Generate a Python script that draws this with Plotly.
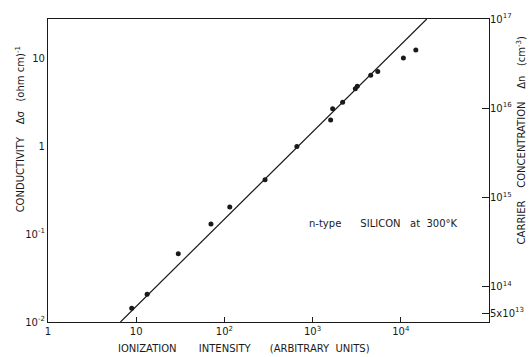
import plotly.graph_objects as go

# measured data points
intensity = [8.9, 13.3, 30, 70.4, 115, 289, 663, 1602, 1688, 2190, 3050, 3210, 4560, 5480, 10700, 14800]
conductivity = [0.0143, 0.0207, 0.0597, 0.130, 0.204, 0.415, 0.99, 1.98, 2.66, 3.17, 4.5, 4.8, 6.4, 7.08, 10.1, 12.4]

# fitted line endpoints
line_x = [6.63, 19700]
line_y = [0.01, 28]

x_tickvals = [1, 10, 100, 1000, 10000]
x_ticktext = ["1", "10", "10<sup>2</sup>", "10<sup>3</sup>", "10<sup>4</sup>"]
y_tickvals = [0.01, 0.1, 1, 10]
y_ticktext = ["10<sup>-2</sup>", "10<sup>-1</sup>", "1", "10"]
y2_tickvals = [5e13, 1e14, 1e15, 1e16, 1e17]
y2_ticktext = ["5x10<sup>13</sup>", "10<sup>14</sup>", "10<sup>15</sup>", "10<sup>16</sup>", "10<sup>17</sup>"]

FONT = "DejaVu Sans"
INK = "#1a1a1a"
NB = "\u00a0"

fig = go.Figure()
fig.add_trace(go.Scatter(x=line_x, y=line_y, mode="lines",
                         line=dict(color=INK, width=1.2), showlegend=False, hoverinfo="skip"))
fig.add_trace(go.Scatter(x=intensity, y=conductivity, mode="markers",
                         marker=dict(color=INK, size=5), showlegend=False))
fig.add_trace(go.Scatter(x=[None], y=[None], yaxis="y2", mode="markers", showlegend=False, hoverinfo="skip"))

fig.update_layout(
    width=529, height=357,
    margin=dict(l=48, r=40, t=19, b=35),
    paper_bgcolor="white", plot_bgcolor="white",
    font=dict(family=FONT, size=10, color=INK),
    xaxis=dict(type="log", range=[0, 5], tickvals=x_tickvals, ticktext=x_ticktext,
               ticks="inside", ticklen=5, tickcolor=INK, showgrid=False, zeroline=False,
               showline=True, linecolor=INK, linewidth=1.2, mirror=True, automargin=False,
               tickfont=dict(size=10, family=FONT, color=INK)),
    yaxis=dict(type="log", range=[-2, 1.447], tickvals=y_tickvals, ticktext=y_ticktext,
               ticks="", showgrid=False, zeroline=False, automargin=False,
               showline=True, linecolor=INK, linewidth=1.2, mirror=True,
               tickfont=dict(size=10, family=FONT, color=INK)),
    yaxis2=dict(type="log", range=[13.6, 17.0], overlaying="y", side="right",
                tickvals=y2_tickvals, ticktext=y2_ticktext, automargin=False,
                ticks="inside", ticklen=7, tickcolor=INK, showgrid=False, zeroline=False,
                showline=False, tickfont=dict(size=10, family=FONT, color=INK)),
)

fig.add_annotation(text="CONDUCTIVITY" + NB * 4 + "Δσ" + NB * 3 + "(ohm" + NB + "cm)<sup>-1</sup>",
                   xref="paper", yref="paper", x=-0.064, y=0.635, textangle=-90,
                   showarrow=False, font=dict(size=10, family=FONT, color=INK), xanchor="center", yanchor="middle")
fig.add_annotation(text="CARRIER" + NB * 4 + "CONCENTRATION" + NB * 4 + "Δn" + NB * 3 + "(cm<sup>-3</sup>)",
                   xref="paper", yref="paper", x=1.073, y=0.6, textangle=-90,
                   showarrow=False, font=dict(size=10, family=FONT, color=INK), xanchor="center", yanchor="middle")
fig.add_annotation(text="IONIZATION" + NB * 7 + "INTENSITY" + NB * 6 + "(ARBITRARY" + NB * 2 + "UNITS)",
                   xref="paper", yref="paper", x=0.445, y=-0.089, yanchor="middle",
                   showarrow=False, font=dict(size=10, family=FONT, color=INK))
fig.add_annotation(text="n-type" + NB * 6 + "SILICON" + NB * 3 + "at" + NB * 2 + "300°K",
                   xref="paper", yref="paper", x=0.934, y=0.30,
                   xanchor="right", showarrow=False, font=dict(size=10, family=FONT, color=INK))

fig.write_html("out.html", config={"displayModeBar": False},
               post_script="document.body.style.margin='0';document.body.style.overflow='hidden';")
